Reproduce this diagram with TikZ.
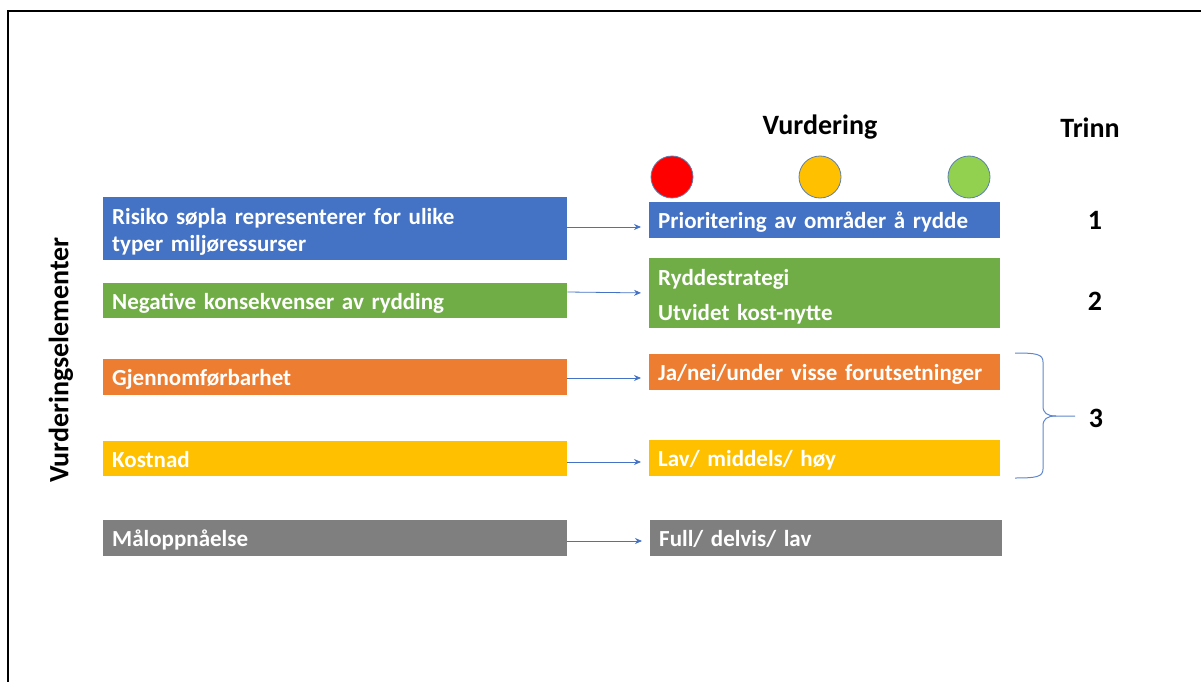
\documentclass[tikz,border=0pt]{standalone}
\usepackage{fontspec}
\setmainfont{Carlito}
\usetikzlibrary{arrows.meta}
\definecolor{cblue}{HTML}{4472C4}
\definecolor{cgreen}{HTML}{70AD47}
\definecolor{corange}{HTML}{ED7D31}
\definecolor{cyellow}{HTML}{FFC000}
\definecolor{cgray}{HTML}{7F7F7F}
\definecolor{cred}{HTML}{FF0000}
\definecolor{clgreen}{HTML}{92D050}
\definecolor{cline}{HTML}{5B7FB0}
\begin{document}
\begin{tikzpicture}[x=1pt,y=-1pt,
  box/.style={rectangle, anchor=north west, inner xsep=9pt, inner ysep=0pt, align=left, text=white,
    font=\fontsize{23}{27}\selectfont\bfseries, execute at begin node={\rule[-6pt]{0pt}{29pt}}},
  lbox/.style={box, text width=446pt},
  rbox/.style={box, text width=333pt},
  arr/.style={draw=cblue, line width=0.8pt, -{Stealth[length=7pt,width=6pt]}, shorten >=8pt},
  lamp/.style={circle, draw=cline, line width=0.8pt, minimum size=42pt, inner sep=0pt},
  title/.style={font=\fontsize{28}{30}\selectfont\bfseries, text=black},
  brace/.style={draw=cblue!85, line width=1pt}]
\useasboundingbox (0,0) rectangle (1201,682);
\draw[line width=2.5pt] (8,682) -- (8,11) -- (1201,11);

% left boxes
\node[lbox, fill=cblue, minimum height=63pt] (l1) at (103,197) {Risiko søpla representerer for ulike\\typer miljøressurser};
\node[lbox, fill=cgreen, minimum height=35pt] (l2) at (103,283) {Negative konsekvenser av rydding};
\node[lbox, fill=corange, minimum height=36pt] (l3) at (103,359) {Gjennomførbarhet};
\node[lbox, fill=cyellow, minimum height=35pt] (l4) at (103,441) {Kostnad};
\node[lbox, fill=cgray, minimum height=36pt] (l5) at (103,520) {Måloppnåelse};

% right boxes
\node[rbox, fill=cblue, minimum height=36pt] (r1) at (649,202) {Prioritering av områder å rydde};
\node[rbox, fill=cgreen, minimum height=70pt] (r2) at (649,258) {Ryddestrategi\\[8pt]Utvidet kost-nytte};
\node[rbox, fill=corange, minimum height=36pt] (r3) at (649,354) {Ja/nei/under visse forutsetninger};
\node[rbox, fill=cyellow, minimum height=36pt] (r4) at (649,440) {Lav/ middels/ høy};
\node[rbox, fill=cgray, minimum height=36pt, text width=334pt] (r5) at (650,520) {Full/ delvis/ lav};

% arrows
\draw[arr] (l1.east |- 0,227) -- (r1.west |- 0,227);
\draw[arr] (l2.east |- 0,292) -- (r2.west |- 0,293);
\draw[arr] (l3.east |- 0,378) -- (r3.west |- 0,378);
\draw[arr] (l4.east |- 0,462) -- (r4.west |- 0,462);
\draw[arr] (l5.east |- 0,541) -- (r5.west |- 0,541);

% lamps
\node[lamp, fill=cred] (c1) at (672,177) {};
\node[lamp, fill=cyellow] (c2) at (820,177) {};
\node[lamp, fill=clgreen] (c3) at (969,177) {};

% titles
\node[title] (vur) at (820,127) {Vurdering};
\node[title] (trinn) at (1090,128) {Trinn};
\node[title] (n1) at (1095,220) {1};
\node[title] (n2) at (1095,301) {2};
\node[title] (n3) at (1096,418) {3};
\node[title, rotate=90] (ve) at (61,360) {Vurderingselementer};

% brace
\coordinate (tip) at (1075,416);
\draw[brace] (1015,353) .. controls (1036,353) and (1043,354) .. (1043,362) -- (1043,406) .. controls (1043,413) and (1047,416) .. (1056,416) -- (tip);
\draw[brace] (1015,478) .. controls (1036,478) and (1043,477) .. (1043,469) -- (1043,426) .. controls (1043,419) and (1047,416) .. (1056,416);
\end{tikzpicture}
\end{document}
